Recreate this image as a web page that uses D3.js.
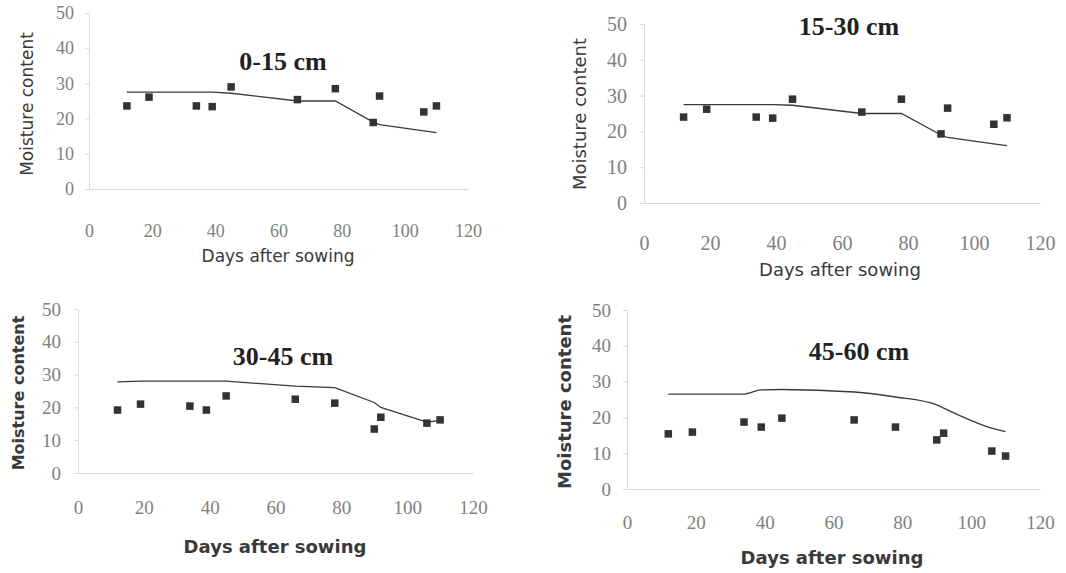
<!DOCTYPE html>
<html lang="en">
<head>
    <meta charset="UTF-8" />
    <title>Moisture content - four depths</title>
    <script src="https://d3js.org/d3.v7.min.js"></script>
    <style>
        body {
            margin: 0;
            padding: 0;
            background: #fff;
        }

        svg {
            display: block;
        }

        .axis path,
        .axis line {
            stroke: #dadada;
            stroke-width: 1px;
        }

        .axis text {
            font-family: "Liberation Serif", "Times New Roman", serif;
            fill: #808080;
        }

        .panel-title {
            font-family: "Liberation Serif", "Times New Roman", serif;
            font-weight: bold;
            fill: #222;
        }

        .axis-title {
            font-family: "DejaVu Sans", Verdana, sans-serif;
            fill: #3a3a3a;
        }

        .sim-line {
            fill: none;
            stroke: #3a3a3a;
            stroke-width: 1.3px;
        }

        .obs {
            fill: #333;
        }
    </style>
</head>
<body>
    <svg id="chart" width="1066" height="573"></svg>

    <script>
        // data
        const days = [12, 19, 34, 39, 45, 66, 78, 90, 92, 106, 110];
        const xTicks = [0, 20, 40, 60, 80, 100, 120];
        const yTicks = [0, 10, 20, 30, 40, 50];
        const depths = ["0-15 cm", "15-30 cm", "30-45 cm", "45-60 cm"];

        const observed0_15 = [23.6, 26.1, 23.6, 23.4, 29.0, 25.4, 28.5, 18.9, 26.4, 21.9, 23.6];
        const observed15_30 = [24.0, 26.2, 24.0, 23.7, 29.0, 25.4, 29.0, 19.3, 26.5, 22.0, 23.8];
        const observed30_45 = [19.2, 21.0, 20.4, 19.2, 23.5, 22.5, 21.3, 13.4, 17.0, 15.2, 16.2];
        const observed45_60 = [15.4, 15.9, 18.7, 17.3, 19.8, 19.3, 17.3, 13.7, 15.6, 10.6, 9.2];

        const simulated0_15 = [27.5, 27.5, 27.5, 27.5, 27.2, 25.0, 25.0, 19.0, 18.3, 16.5, 16.0];
        const simulated15_30 = [27.5, 27.5, 27.5, 27.5, 27.3, 25.0, 25.0, 19.0, 18.3, 16.5, 16.0];
        const simulated30_45 = [27.8, 28.0, 28.0, 28.0, 28.0, 26.5, 26.0, 21.5, 20.0, 15.5, 16.0];
        const simulated45_60 = [26.5, 26.5, 26.5, 27.7, 27.8, 27.1, 25.7, 23.5, 22.6, 17.0, 16.0];

        const observedSets = [observed0_15, observed15_30, observed30_45, observed45_60];
        const simulatedSets = [simulated0_15, simulated15_30, simulated30_45, simulated45_60];

        // each panel sits a little differently on the scanned page
        const layout = [
            { x0: 89, x1: 468, y0: 189, y1: 13, tick: 18, yPad: 11, xPad: 35,
              title: [283, 70], xTitle: [278, 262, 17, "normal"], yTitle: [27, 104, 17, "normal"], curve: d3.curveLinear },
            { x0: 644, x1: 1040, y0: 203, y1: 24, tick: 20, yPad: 13, xPad: 33,
              title: [849, 35], xTitle: [840, 276, 18, "normal"], yTitle: [580, 114, 18, "normal"], curve: d3.curveLinear },
            { x0: 78, x1: 473, y0: 473, y1: 309, tick: 19, yPad: 13, xPad: 28,
              title: [283, 365], xTitle: [275, 553, 18, "bold"], yTitle: [18, 393, 16, "bold"], curve: d3.curveLinear },
            { x0: 627, x1: 1040, y0: 489, y1: 310, tick: 19, yPad: 12, xPad: 27,
              title: [859, 360], xTitle: [832, 564, 18, "bold"], yTitle: [565, 402, 18, "bold"], curve: d3.curveMonotoneX }
        ];

        const svg = d3.select("#chart");

        layout.forEach((p, i) => {
            const g = svg.append("g");

            const x = d3.scaleLinear().domain([0, 120]).range([p.x0, p.x1]);
            const y = d3.scaleLinear().domain([0, 50]).range([p.y0, p.y1]);

            // y axis
            g.append("g")
                .attr("class", "axis")
                .attr("transform", `translate(${x(0)},0)`)
                .call(d3.axisLeft(y).tickValues(yTicks).tickSize(4).tickSizeOuter(0).tickPadding(p.yPad))
                .selectAll("text")
                .style("font-size", p.tick + "px");

            // x axis along zero
            g.append("g")
                .attr("class", "axis")
                .attr("transform", `translate(0,${y(0)})`)
                .call(d3.axisBottom(x).tickValues(xTicks).tickSize(0).tickSizeOuter(0).tickPadding(p.xPad))
                .selectAll("text")
                .style("font-size", p.tick + "px");

            // simulated line
            const pts = days.map((d, j) => ({ day: d, v: simulatedSets[i][j] }));
            g.append("path")
                .datum(pts)
                .attr("class", "sim-line")
                .attr("d", d3.line().x(d => x(d.day)).y(d => y(d.v)).curve(p.curve));

            // observed squares
            const obs = days.map((d, j) => ({ day: d, v: observedSets[i][j] }));
            const s = 7.5;
            g.selectAll(".obs")
                .data(obs)
                .enter().append("rect")
                .attr("class", "obs")
                .attr("x", d => x(d.day) - s / 2)
                .attr("y", d => y(d.v) - s / 2)
                .attr("width", s)
                .attr("height", s);

            // panel title
            g.append("text")
                .attr("class", "panel-title")
                .attr("x", p.title[0])
                .attr("y", p.title[1])
                .attr("text-anchor", "middle")
                .style("font-size", "26px")
                .text(depths[i]);

            g.append("text")
                .attr("class", "axis-title")
                .attr("x", p.xTitle[0])
                .attr("y", p.xTitle[1])
                .attr("text-anchor", "middle")
                .style("font-size", p.xTitle[2] + "px")
                .style("font-weight", p.xTitle[3])
                .text("Days after sowing");

            g.append("text")
                .attr("class", "axis-title")
                .attr("transform", `translate(${p.yTitle[0]},${p.yTitle[1]}) rotate(-90)`)
                .attr("text-anchor", "middle")
                .attr("dy", "0.35em")
                .style("font-size", p.yTitle[2] + "px")
                .style("font-weight", p.yTitle[3])
                .text("Moisture content");
        });
    </script>
</body>
</html>
